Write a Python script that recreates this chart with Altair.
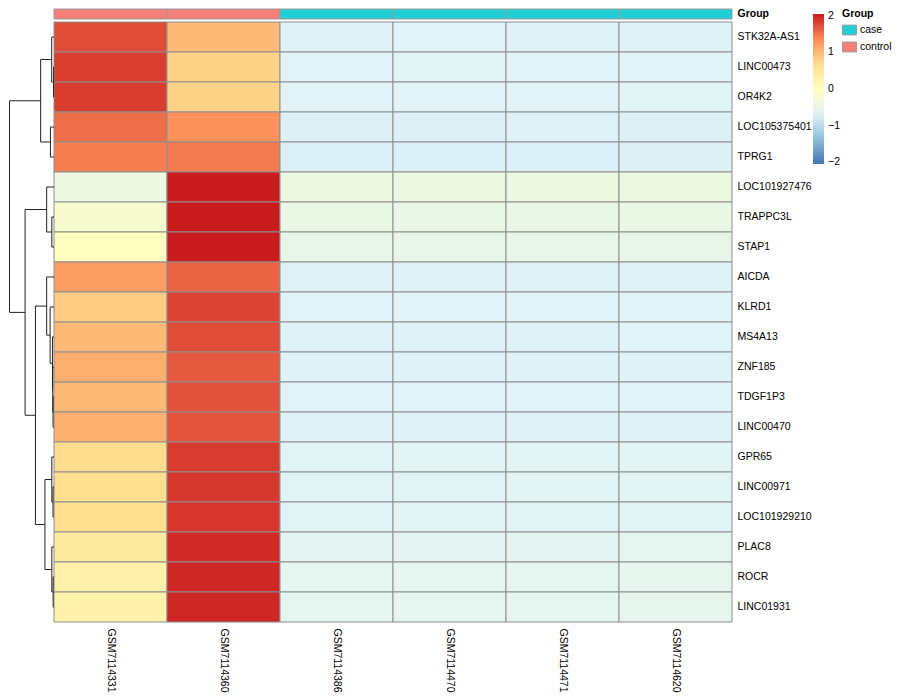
import altair as alt
import pandas as pd

# ---------------- data ----------------
samples = ["GSM7114331", "GSM7114360", "GSM7114386", "GSM7114470", "GSM7114471", "GSM7114620"]
groups = ["control", "control", "case", "case", "case", "case"]
genes = ["STK32A-AS1", "LINC00473", "OR4K2", "LOC105375401", "TPRG1", "LOC101927476",
         "TRAPPC3L", "STAP1", "AICDA", "KLRD1", "MS4A13", "ZNF185", "TDGF1P3",
         "LINC00470", "GPR65", "LINC00971", "LOC101929210", "PLAC8", "ROCR", "LINC01931"]

# row-scaled expression (z-scores), one list per sample, in gene order
gsm7114331 = [1.75, 1.83, 1.84, 1.55, 1.45, -0.40, -0.18, 0.00, 1.23, 0.85,
              1.00, 1.09, 1.00, 1.08, 0.72, 0.70, 0.69, 0.46, 0.32, 0.30]
gsm7114360 = [1.00, 0.80, 0.79, 1.32, 1.48, 2.04, 2.04, 2.04, 1.61, 1.79,
              1.75, 1.67, 1.72, 1.70, 1.85, 1.87, 1.88, 1.95, 1.97, 1.97]
gsm7114386 = [-0.69, -0.66, -0.66, -0.72, -0.73, -0.41, -0.46, -0.51, -0.71, -0.66,
              -0.69, -0.69, -0.68, -0.70, -0.65, -0.65, -0.65, -0.61, -0.58, -0.58]
gsm7114470 = [-0.68, -0.65, -0.66, -0.72, -0.73, -0.41, -0.47, -0.51, -0.71, -0.66,
              -0.69, -0.69, -0.68, -0.69, -0.64, -0.65, -0.64, -0.61, -0.58, -0.57]
gsm7114471 = [-0.69, -0.66, -0.66, -0.71, -0.73, -0.41, -0.47, -0.51, -0.71, -0.66,
              -0.69, -0.69, -0.68, -0.70, -0.64, -0.64, -0.65, -0.60, -0.57, -0.58]
gsm7114620 = [-0.70, -0.66, -0.65, -0.72, -0.72, -0.41, -0.46, -0.51, -0.70, -0.66,
              -0.68, -0.69, -0.68, -0.69, -0.63, -0.63, -0.63, -0.58, -0.56, -0.55]

# row dendrogram (merge steps: left child, right child, height); rN = row N, mK = merge K
merge_left = ["r1", "r0", "r3", "m1", "r6", "r5", "r12", "r11", "r10", "r9",
              "r8", "r15", "r14", "r18", "r17", "m12", "m10", "m5", "m3"]
merge_right = ["r2", "m0", "r4", "m2", "r7", "m4", "r13", "m6", "m7", "m8",
               "m9", "r16", "m11", "r19", "m13", "m14", "m15", "m16", "m17"]
merge_height = [0.10, 0.52, 0.80, 3.00, 0.49, 1.65, 0.22, 0.28, 0.34, 0.87,
                1.65, 0.22, 0.49, 0.20, 0.49, 2.04, 4.17, 6.50, 10.0]

heat_stops = [-2.05, -1.367, -0.683, 0.0, 0.683, 1.367, 2.05]
heat_colors = ["#4575B4", "#91BFDB", "#E0F3F8", "#FFFFBF", "#FEE090", "#FC8D59", "#C9191E"]
group_names = ["case", "control"]
group_colors = ["#1FD0D7", "#F67F79"]

FONT = "Liberation Sans"
FS = 10.5
DW = 46          # dendrogram strip
HW = 678         # heatmap body
W = DW + HW
H = 600

# ---------------- tables ----------------
cols = [gsm7114331, gsm7114360, gsm7114386, gsm7114470, gsm7114471, gsm7114620]
rows = []
for s, vals in zip(samples, cols):
    for g, v in zip(genes, vals):
        rows.append({"sample": s, "gene": g, "value": v})
heat_df = pd.DataFrame(rows)

annot_df = pd.DataFrame({"sample": samples, "Group": groups, "label": ["Group"] * len(samples)})

pos = {f"r{i}": (i + 0.5, 0.0) for i in range(len(genes))}
segs = []
for k, (a, b, h) in enumerate(zip(merge_left, merge_right, merge_height)):
    ya, ha = pos[a]
    yb, hb = pos[b]
    segs.append({"hx": ha, "hx2": h, "dy": ya, "dy2": ya})
    segs.append({"hx": hb, "hx2": h, "dy": yb, "dy2": yb})
    segs.append({"hx": h, "hx2": h, "dy": ya, "dy2": yb})
    pos[f"m{k}"] = ((ya + yb) / 2, h)
seg_df = pd.DataFrame(segs)

col_scale = alt.Scale(paddingInner=0, paddingOuter=0, range=[DW, W])
row_scale = alt.Scale(paddingInner=0, paddingOuter=0)

# ---------------- charts ----------------
annot = alt.Chart(annot_df).mark_rect(stroke="#9a9a9a", strokeWidth=1).encode(
    x=alt.X("sample:N", sort=samples, scale=col_scale, axis=None),
    y=alt.Y("label:N", scale=row_scale,
            axis=alt.Axis(orient="right", title=None, domain=False, ticks=False,
                          labelPadding=5, labelFontWeight="bold", labelFontSize=FS,
                          labelFont=FONT, labelColor="black")),
    color=alt.Color("Group:N",
                    scale=alt.Scale(domain=group_names, range=group_colors),
                    legend=alt.Legend(title="Group", orient="none", legendX=DW + 788, legendY=0,
                                      titleFontWeight="bold", titleFontSize=FS, titleFont=FONT,
                                      titleColor="black", titlePadding=3,
                                      labelFontSize=FS, labelFont=FONT, labelColor="black",
                                      symbolType="M-1,-0.7H1V0.7H-1Z", symbolSize=196,
                                      symbolStrokeColor="#999999", symbolStrokeWidth=1,
                                      symbolOpacity=1, rowPadding=2, labelOffset=3)),
).properties(width=W, height=10)

heat = alt.Chart(heat_df).mark_rect(stroke="#8e8e8e", strokeWidth=1).encode(
    x=alt.X("sample:N", sort=samples, scale=col_scale,
            axis=alt.Axis(orient="bottom", title=None, domain=False, ticks=False,
                          labelAngle=90, labelPadding=6, labelFontSize=FS,
                          labelFont=FONT, labelColor="black")),
    y=alt.Y("gene:N", sort=genes, scale=row_scale,
            axis=alt.Axis(orient="right", title=None, domain=False, ticks=False,
                          labelPadding=5, labelFontSize=FS, labelFont=FONT,
                          labelColor="black")),
    color=alt.Color("value:Q",
                    scale=alt.Scale(domain=heat_stops, range=heat_colors, interpolate="rgb"),
                    legend=alt.Legend(title=None, orient="none", legendX=DW + 759, legendY=-8,
                                      direction="vertical", gradientLength=150,
                                      gradientThickness=11, gradientStrokeWidth=0,
                                      values=[-2, -1, 0, 1, 2], labelFontSize=FS,
                                      labelFont=FONT, labelColor="black", labelOffset=4)),
)

dendro = alt.Chart(seg_df).mark_rule(color="#222222", strokeWidth=1).encode(
    x=alt.X("hx:Q", scale=alt.Scale(domain=[0, 10.34], range=[0, DW], reverse=True,
                                    nice=False, zero=False), axis=None),
    x2="hx2:Q",
    y=alt.Y("dy:Q", scale=alt.Scale(domain=[0, len(genes)], reverse=True, nice=False, zero=False),
            axis=None),
    y2="dy2:Q",
)

body = alt.layer(heat, dendro).resolve_scale(x="independent", y="independent").properties(
    width=W, height=H)

chart = alt.vconcat(annot, body, spacing=3, bounds="flush").resolve_scale(
    x="independent", y="independent", color="independent"
).properties(padding=0).configure_view(stroke=None)

chart.save("out.html", embed_options={"renderer": "svg", "actions": False})
